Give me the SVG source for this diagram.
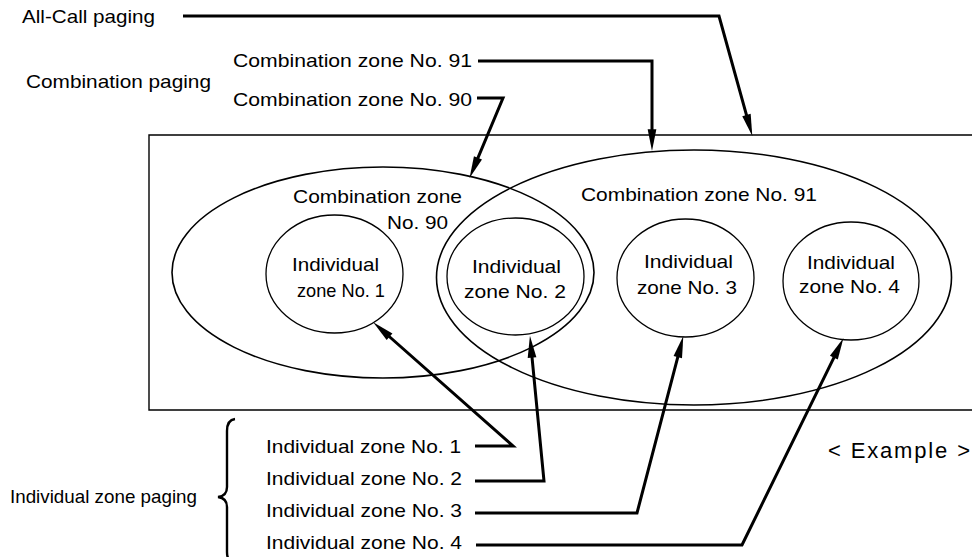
<svg xmlns="http://www.w3.org/2000/svg" width="972" height="557" viewBox="0 0 972 557">
<style>
text{font-family:"Liberation Sans",Arial,sans-serif;font-size:19px;fill:#000}
.ex{font-size:22px}
.frame{fill:none;stroke:#000;stroke-width:1.4}
.comb{fill:none;stroke:#000;stroke-width:1.6}
.ind{fill:none;stroke:#000;stroke-width:1.3}
.conn{fill:none;stroke:#000;stroke-width:3;stroke-linejoin:miter;stroke-miterlimit:6;marker-end:url(#arr)}
.plain{fill:none;stroke:#000;stroke-width:2.4}
</style>
<defs>
<marker id="arr" markerUnits="userSpaceOnUse" markerWidth="24" markerHeight="12" viewBox="0 -5 22 10" refX="8" refY="0" orient="auto" overflow="visible">
<path d="M0,-4 L20,0 L0,4 Z" fill="#000"/>
</marker>
</defs>
<rect width="972" height="557" fill="#fff"/>

<g id="frame">
<path class="frame" d="M975,135 H149 V410 H975"/>
<text class="ex" x="828" y="458" textLength="142" lengthAdjust="spacing">&lt; Example &gt;</text>
</g>

<g id="comb90">
<ellipse class="comb" cx="383" cy="272.5" rx="211" ry="105.5"/>
<text x="293" y="203" textLength="169" lengthAdjust="spacingAndGlyphs">Combination zone</text>
<text x="387" y="229" textLength="61" lengthAdjust="spacingAndGlyphs">No. 90</text>
</g>

<g id="comb91">
<ellipse class="comb" cx="694" cy="277.5" rx="257.5" ry="127.5"/>
<text x="581" y="201" textLength="236" lengthAdjust="spacingAndGlyphs">Combination zone No. 91</text>
</g>

<g id="zone1">
<ellipse class="ind" cx="334.5" cy="274" rx="68.5" ry="59"/>
<text x="292" y="271" textLength="87" lengthAdjust="spacingAndGlyphs">Individual</text>
<text x="297" y="297" textLength="88" lengthAdjust="spacingAndGlyphs">zone No. 1</text>
</g>

<g id="zone2">
<ellipse class="ind" cx="515.5" cy="276.5" rx="68.5" ry="58.5"/>
<text x="472" y="273" textLength="89" lengthAdjust="spacingAndGlyphs">Individual</text>
<text x="464" y="298" textLength="102" lengthAdjust="spacingAndGlyphs">zone No. 2</text>
</g>

<g id="zone3">
<ellipse class="ind" cx="685.5" cy="278" rx="68.5" ry="59"/>
<text x="644" y="268" textLength="89" lengthAdjust="spacingAndGlyphs">Individual</text>
<text x="637" y="294" textLength="100" lengthAdjust="spacingAndGlyphs">zone No. 3</text>
</g>

<g id="zone4">
<ellipse class="ind" cx="851" cy="281" rx="68" ry="59"/>
<text x="807" y="269" textLength="88" lengthAdjust="spacingAndGlyphs">Individual</text>
<text x="799" y="293" textLength="101" lengthAdjust="spacingAndGlyphs">zone No. 4</text>
</g>

<g id="allcall">
<text x="22" y="23" textLength="133" lengthAdjust="spacingAndGlyphs">All-Call paging</text>
</g>

<g id="combpaging">
<text x="26" y="88" textLength="185" lengthAdjust="spacingAndGlyphs">Combination paging</text>
<text x="233" y="67" textLength="239" lengthAdjust="spacingAndGlyphs">Combination zone No. 91</text>
<text x="233" y="106" textLength="239" lengthAdjust="spacingAndGlyphs">Combination zone No. 90</text>
</g>

<g id="indpaging">
<text x="10" y="503" textLength="187" lengthAdjust="spacingAndGlyphs">Individual zone paging</text>
<path class="plain" d="M235,419 Q227,420 227,431 L227,487 Q227,496 218,497 Q227,498 227,507 L227,552 Q227,562 235,563"/>
<text x="266" y="453" textLength="195" lengthAdjust="spacingAndGlyphs">Individual zone No. 1</text>
<text x="266" y="485" textLength="196" lengthAdjust="spacingAndGlyphs">Individual zone No. 2</text>
<text x="266" y="517" textLength="196" lengthAdjust="spacingAndGlyphs">Individual zone No. 3</text>
<text x="266" y="549" textLength="196" lengthAdjust="spacingAndGlyphs">Individual zone No. 4</text>
</g>

<g id="connectors">
<path class="conn" d="M183,16 H719 L748.8,123.4"/>
<path class="conn" d="M478,61 H652 V138"/>
<path class="conn" d="M477,98 H503 L474.6,165.9"/>
<path class="conn" d="M475,446 H513 L383,331"/>
<path class="conn" d="M475,481 H544 L531.2,348.9"/>
<path class="conn" d="M475,513 H637 L680,348.6"/>
<path class="conn" d="M476,545 H742 L837.7,349.8"/>
</g>
</svg>
